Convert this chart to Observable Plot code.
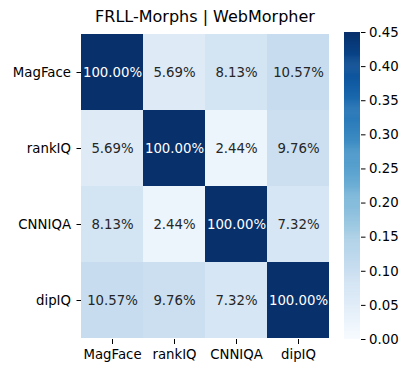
<!DOCTYPE html>
<html>
<head>
<meta charset="utf-8">
<script src="https://cdn.jsdelivr.net/npm/d3@7"></script>
<script src="https://cdn.jsdelivr.net/npm/@observablehq/plot@0.6"></script>
<style>
  body { margin: 0; background: #fff; font-family: "DejaVu Sans", sans-serif; }
  #wrap { position: relative; width: 410px; height: 374px; overflow: hidden; }
  #title { position: absolute; left: 81px; width: 248px; top: 7px; text-align: center; font-size: 16px; color: #000; white-space: nowrap; }
  .abs { position: absolute; top: 0; }
</style>
</head>
<body>
<div id="wrap">
  <div id="title">FRLL-Morphs | WebMorpher</div>
</div>
<script>
const methods = ["MagFace", "rankIQ", "CNNIQA", "dipIQ"];
const matrix = [
  [1.0000, 0.0569, 0.0813, 0.1057],
  [0.0569, 1.0000, 0.0244, 0.0976],
  [0.0813, 0.0244, 1.0000, 0.0732],
  [0.1057, 0.0976, 0.0732, 1.0000]
];
const colorTicks = [0.00, 0.05, 0.10, 0.15, 0.20, 0.25, 0.30, 0.35, 0.40, 0.45];
const vmin = 0, vmax = 0.45;

const cells = [];
methods.forEach((r, i) => methods.forEach((c, j) => cells.push({row: r, col: c, value: matrix[i][j]})));

const colorOpts = {type: "linear", scheme: "blues", domain: [vmin, vmax], clamp: true};
const fs = "13.3px";

const main = Plot.plot({
  width: 340, height: 374,
  marginLeft: 81, marginRight: 11, marginTop: 32, marginBottom: 35,
  style: {fontFamily: "DejaVu Sans, sans-serif", fontSize: fs, color: "#000", background: "transparent"},
  x: {domain: methods, padding: 0, label: null, tickSize: 5, tickPadding: 5},
  y: {domain: methods, padding: 0, label: null, tickSize: 4.5, tickPadding: 6},
  color: colorOpts,
  marks: [
    Plot.cell(cells, {x: "col", y: "row", fill: "value"}),
    Plot.text(cells, {x: "col", y: "row", text: d => (d.value * 100).toFixed(2) + "%",
      fill: d => d.value > 0.26 ? "#ffffff" : "#262626", fontSize: 13.3})
  ]
});
main.classList.add("abs");
main.style.left = "0px";
document.getElementById("wrap").appendChild(main);

const step = 0.0015;
const grad = d3.range(0, vmax, step);
const bar = Plot.plot({
  width: 110, height: 374,
  marginLeft: 44, marginRight: 50, marginTop: 32, marginBottom: 35,
  style: {fontFamily: "DejaVu Sans, sans-serif", fontSize: fs, color: "#000", background: "transparent"},
  x: {domain: [0, 1], axis: null},
  y: {domain: [vmin, vmax], axis: "right", ticks: colorTicks, tickFormat: d3.format(".2f"), label: null, tickSize: 4.5, tickPadding: 4},
  color: colorOpts,
  marks: [
    Plot.rect(grad, {x1: 0, x2: 1, y1: d => d, y2: d => Math.min(vmax, d + step * 1.5), fill: d => d + step / 2})
  ]
});
bar.classList.add("abs");
bar.style.left = "300px";
document.getElementById("wrap").appendChild(bar);
</script>
</body>
</html>
